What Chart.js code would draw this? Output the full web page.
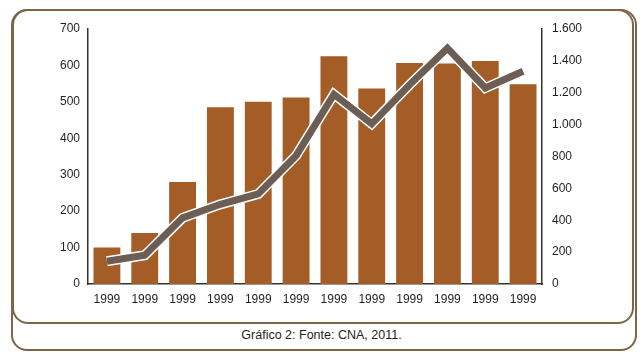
<!DOCTYPE html>
<html>
<head>
<meta charset="utf-8">
<script src="https://cdn.jsdelivr.net/npm/chart.js@4"></script>
<style>
  html, body { margin: 0; padding: 0; background: #ffffff; }
  #wrap { position: relative; width: 643px; height: 356px; overflow: hidden; }
  .box { position: absolute; border: 2px solid #7d6546; border-radius: 16px; box-sizing: border-box; }
  #outer { left: 11px; top: 9px; width: 626px; height: 342px; }
  #inner { left: 12px; top: 9px; width: 622px; height: 315px; }
  #caption { position: absolute; left: 0; width: 643px; top: 328px; text-align: center;
             font: 12.5px "Liberation Sans", Arial, sans-serif; color: #231f20; }
  canvas { position: absolute; left: 0; top: 0; }
</style>
</head>
<body>
<div id="wrap">
  <div class="box" id="outer"></div>
  <div class="box" id="inner"></div>
  <div id="caption">Gráfico 2: Fonte: CNA, 2011.</div>
  <canvas id="c" width="643" height="356"></canvas>
</div>
<script>
const categories = ["1999","1999","1999","1999","1999","1999","1999","1999","1999","1999","1999","1999"];
const barValues = [100, 140, 280, 485, 500, 512, 625, 537, 607, 605, 612, 548];
const lineValues = [143, 180, 415, 500, 565, 805, 1190, 1005, 1250, 1480, 1230, 1335];
const leftTicks = [0, 100, 200, 300, 400, 500, 600, 700];
const rightTicks = [0, 200, 400, 600, 800, 1000, 1200, 1400, 1600];

const FONT = { family: '"Liberation Sans", Arial, sans-serif', size: 12 };
const TXT = '#231f20';

new Chart(document.getElementById('c'), {
  data: {
    labels: categories,
    datasets: [
      { type: 'line', data: lineValues, yAxisID: 'y2', borderColor: '#6c5e54', borderWidth: 7,
        pointRadius: 0, tension: 0, borderJoinStyle: 'miter', borderCapStyle: 'butt', order: 1 },
      { type: 'line', data: lineValues, yAxisID: 'y2', borderColor: '#ffffff', borderWidth: 10,
        pointRadius: 0, tension: 0, borderJoinStyle: 'miter', borderCapStyle: 'butt', order: 2 },
      { type: 'bar', data: barValues, yAxisID: 'y', backgroundColor: '#a45d26',
        barPercentage: 0.71, categoryPercentage: 1, order: 3 }
    ]
  },
  options: {
    responsive: false,
    animation: false,
    events: [],
    layout: { padding: { top: 29, left: 0, right: 0, bottom: 0 } },
    plugins: { legend: { display: false }, tooltip: { enabled: false } },
    scales: {
      x: {
        grid: { display: false, drawTicks: false },
        border: { display: true, color: '#333333', width: 1.5 },
        ticks: { color: TXT, font: FONT, padding: 8, maxRotation: 0, autoSkip: false },
        afterFit: s => { s.height = 356 - 284; }
      },
      y: {
        position: 'left', min: 0, max: 700,
        grid: { display: false, drawTicks: false },
        border: { display: true, color: '#333333', width: 1.5 },
        afterBuildTicks: s => { s.ticks = leftTicks.map(v => ({ value: v })); },
        ticks: { color: TXT, font: FONT, padding: 8 },
        afterFit: s => { s.width = 88; }
      },
      y2: {
        position: 'right', min: 0, max: 1600,
        grid: { display: false, drawTicks: false },
        border: { display: true, color: '#333333', width: 1.5 },
        afterBuildTicks: s => { s.ticks = rightTicks.map(v => ({ value: v })); },
        ticks: { color: TXT, font: FONT, padding: 10,
          callback: v => v.toString().replace(/\B(?=(\d{3})+(?!\d))/g, '.') },
        afterFit: s => { s.width = 643 - 542; }
      }
    }
  }
});
</script>
</body>
</html>
